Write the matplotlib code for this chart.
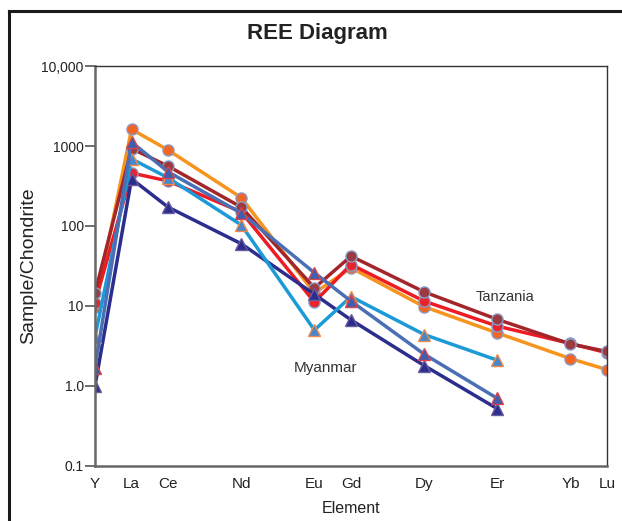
### REE diagram - Tanzania vs Myanmar samples (chondrite normalised)

import matplotlib
matplotlib.use("Agg")
import matplotlib.pyplot as plt
from matplotlib.lines import Line2D

plt.rcParams['font.family'] = ['Liberation Sans', 'DejaVu Sans']

elements = ['Y', 'La', 'Ce', 'Nd', 'Eu', 'Gd', 'Dy', 'Er', 'Yb', 'Lu']
x_pos = [0, 1, 2, 4, 6, 7, 9, 11, 13, 14]

# Tanzania (circles)
tz_orange = [9.8, 1620, 890, 226, 14.5, 30, 9.8, 4.6, 2.2, 1.6]
tz_red = [11, 460, 365, 150, 11.2, 33, 11.5, 5.6, 3.4, 2.6]
tz_brown = [14.5, 930, 560, 172, 16.8, 42, 15, 6.8, 3.35, 2.7]

# Myanmar (triangles), no Yb / Lu
my_elems = ['Y', 'La', 'Ce', 'Nd', 'Eu', 'Gd', 'Dy', 'Er']
my_pos = [0, 1, 2, 4, 6, 7, 9, 11]
my_cyan = [4.1, 690, 400, 103, 5.0, 13.1, 4.4, 2.1]
my_steel = [1.7, 1120, 475, 145, 26, 11.5, 2.5, 0.7]
my_navy = [1.0, 388, 172, 60, 14, 6.7, 1.8, 0.52]

fig = plt.figure(figsize=(6.22, 5.21), dpi=100)
ax = fig.add_axes([0.1527, 0.1056, 0.8232, 0.7677])

# outer frame (only left and top visible in the original)
fig.add_artist(Line2D([0.0145, 0.0145], [0, 0.979], color='#1a1a1a', lw=2.2, transform=fig.transFigure))
fig.add_artist(Line2D([0.0145, 1.0], [0.979, 0.979], color='#1a1a1a', lw=2.2, transform=fig.transFigure))

lw = 2.5
circ = dict(marker='o', markersize=8, markeredgewidth=1.0, markeredgecolor='#8a9cc8')
tri = dict(marker='^', markersize=9, markeredgewidth=1.0)

ax.plot(x_pos, tz_orange, color='#f7941d', lw=lw, markerfacecolor='#f26522', **circ)
ax.plot(x_pos, tz_red, color='#ed1c24', lw=lw, markerfacecolor='#e8232b', **circ)
ax.plot(x_pos, tz_brown, color='#a3262a', lw=lw, markerfacecolor='#9b3a40', **circ)
ax.plot(my_pos, my_navy, color='#2b2e8c', lw=lw, markerfacecolor='#2b2e8c',
        markeredgecolor='#6a5aa0', **tri)
ax.plot(my_pos, my_cyan, color='#1c9ad8', lw=lw, markerfacecolor='#4a86c8',
        markeredgecolor='#f08a4b', **tri)
ax.plot(my_pos, my_steel, color='#4a6fb5', lw=lw, markerfacecolor='#3e5eb0',
        markeredgecolor='#d9434a', **tri)

ax.set_yscale('log')
ax.set_ylim(0.1, 10000)
ax.set_xlim(0, 14)
ax.set_yticks([0.1, 1, 10, 100, 1000, 10000])
ax.set_yticklabels(['0.1', '1.0', '10', '100', '1000', '10,000'])
ax.minorticks_off()
ax.set_xticks(x_pos)
ax.set_xticklabels(elements)
ax.tick_params(axis='x', length=0, pad=8, labelsize=11, colors='#222222')
ax.tick_params(axis='y', length=7, width=1.2, color='#555555', pad=1, labelsize=10, labelcolor='#222222')

for s in ['left', 'bottom']:
    ax.spines[s].set_color('#666666')
    ax.spines[s].set_linewidth(1.8)
for s in ['top', 'right']:
    ax.spines[s].set_color('#333333')
    ax.spines[s].set_linewidth(1.0)

ax.text(11.2, 12.9, 'Tanzania', ha='center', va='center', fontsize=10.5, color='#333333')
ax.text(6.3, 1.68, 'Myanmar', ha='center', va='center', fontsize=11, color='#333333')

ax.set_xlabel('Element', fontsize=11.5, color='#222222', labelpad=7)
ax.set_ylabel('Sample/Chondrite', fontsize=14, color='#222222', labelpad=3)
fig.text(0.51, 0.936, 'REE Diagram', ha='center', va='center', fontsize=16, fontweight='bold',
         color='#222222')

plt.savefig("out.png", dpi=100)
